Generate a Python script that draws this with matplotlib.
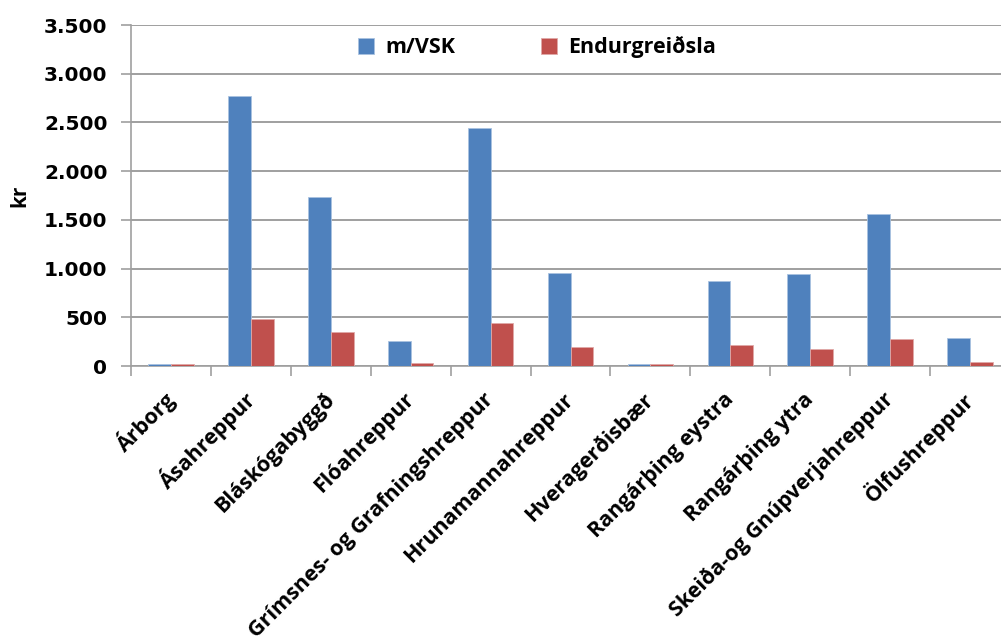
import numpy as np
import matplotlib.pyplot as plt

## Data

kommunur = ['Árborg', 'Ásahreppur', 'Bláskógabyggð', 'Flóahreppur',
            'Grímsnes- og Grafningshreppur', 'Hrunamannahreppur', 'Hveragerðisbær',
            'Rangárþing eystra', 'Rangárþing ytra', 'Skeiða-og Gnúpverjahreppur',
            'Ölfushreppur']
m_vsk = [17, 2775, 1735, 258, 2445, 955, 17, 876, 942, 1561, 283]
endurgreidsla = [17, 481, 347, 32, 440, 200, 17, 216, 179, 282, 46]
yticks = [0, 500, 1000, 1500, 2000, 2500, 3000, 3500]
ytick_labels = ['0', '500', '1.000', '1.500', '2.000', '2.500', '3.000', '3.500']

## Figure

plt.rcParams['font.family'] = ['Open Sans', 'DejaVu Sans']

fig = plt.figure(figsize=(10.01, 6.42), dpi=100)
ax = fig.add_axes([0.1309, 0.4299, 1.009 - 0.1309, 0.961 - 0.4299])

x = np.arange(len(kommunur))
w = 0.285
ax.bar(x - w/2, m_vsk, w, color='#4F81BD', edgecolor='#A9C2E0', linewidth=0.6,
       label='m/VSK', zorder=3)
ax.bar(x + w/2, endurgreidsla, w, color='#C0504D', edgecolor='#E0A9A8', linewidth=0.6,
       label='Endurgreiðsla', zorder=3)

ax.set_xlim(-0.5, len(kommunur) - 0.5)
ax.set_ylim(0, 3500)
ax.set_yticks(yticks)
ax.set_yticklabels(ytick_labels, fontsize=14.5, fontweight='bold', family='DejaVu Sans')
ax.yaxis.grid(True, color='#9F9F9F', linewidth=1.4, zorder=0)
ax.set_axisbelow(True)

# category boundary ticks on the x axis
ax.set_xticks(np.arange(-0.5, len(kommunur), 1.0))
ax.set_xticklabels([])
ax.tick_params(axis='x', which='major', length=7, color='#9F9F9F', width=1.2)
ax.set_xticks(x, minor=True)
ax.set_xticklabels(kommunur, minor=True, rotation=45, ha='right',
                   rotation_mode='anchor', fontsize=15.5, fontweight='bold')
ax.tick_params(axis='x', which='minor', length=0, pad=22)
for lab in ax.get_xticklabels(minor=True):
    lab.set_va('center')
ax.tick_params(axis='y', length=7, color='#9F9F9F', width=1.2, pad=10)

for s in ['top', 'right']:
    ax.spines[s].set_visible(False)
for s in ['left', 'bottom']:
    ax.spines[s].set_color('#9F9F9F')
    ax.spines[s].set_linewidth(1.2)

ax.set_ylabel('kr', fontsize=15, fontweight='bold', labelpad=10)

leg = ax.legend(loc='center', bbox_to_anchor=(0.462, 0.935), ncol=2, frameon=False,
                handlelength=0.75, handleheight=0.75, handletextpad=0.5,
                columnspacing=4.0, prop={'size': 15.5, 'weight': 'bold'})

fig.savefig('out.png', dpi=100)
